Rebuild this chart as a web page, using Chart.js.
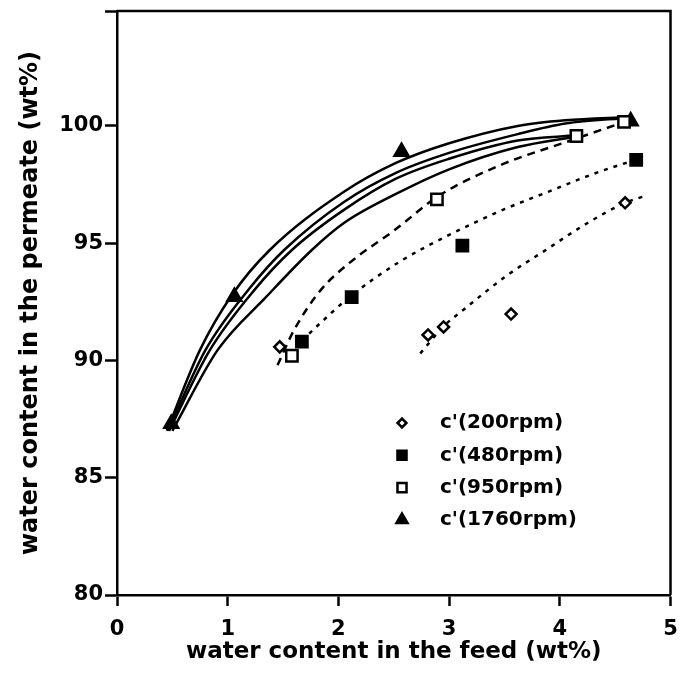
<!DOCTYPE html>
<html>
<head>
<meta charset="utf-8">
<script src="https://cdn.jsdelivr.net/npm/chart.js@4.4.1/dist/chart.umd.min.js"></script>
<style>
html,body{margin:0;padding:0;background:#fff;}
#wrap{width:681px;height:683px;}
</style>
</head>
<body>
<div id="wrap"><canvas id="c" width="681" height="683"></canvas></div>
<script>
// ---------- data ----------
const xTickValues = [0, 1, 2, 3, 4, 5];
const yTickValues = [80, 85, 90, 95, 100];
const xMin = 0, xMax = 5, yMin = 80, yMax = 104.9;

const xTitle = 'water content in the feed (wt%)';
const yTitle = 'water content in the permeate (wt%)';
const legendLabels = ["c'(200rpm)", "c'(480rpm)", "c'(950rpm)", "c'(1760rpm)"];

// measured points
const rpm200X = [1.47, 2.81, 2.95, 3.56, 4.59];
const rpm200Y = [90.58, 91.09, 91.43, 91.98, 96.72];
const rpm480X = [1.67, 2.12, 3.12, 4.69];
const rpm480Y = [90.8, 92.7, 94.9, 98.55];
const rpm950X = [1.58, 2.89, 4.15, 4.58];
const rpm950Y = [90.2, 96.87, 99.57, 100.17];
const rpm1760X = [0.49, 1.06, 2.57, 4.64];
const rpm1760Y = [87.3, 92.72, 98.9, 100.2];

// model curves (solid)
const modelAX = [0.45, 0.75, 1.04, 1.38, 2.05, 2.52, 3.0, 3.62, 4.05, 4.63];
const modelAY = [87.0, 90.45, 92.8, 94.71, 97.19, 98.42, 99.26, 100.0, 100.24, 100.38];
const modelBX = [0.46, 0.8, 1.2, 1.51, 2.05, 2.52, 3.0, 3.62, 4.05, 4.63];
const modelBY = [87.0, 90.45, 93.09, 94.71, 96.76, 98.0, 98.85, 99.65, 100.1, 100.35];
const modelCX = [0.47, 0.84, 1.24, 1.58, 2.05, 2.52, 3.0, 3.62, 4.15];
const modelCY = [87.0, 90.45, 93.0, 94.71, 96.42, 97.75, 98.6, 99.38, 99.6];
const modelDX = [0.5, 0.91, 1.35, 1.76, 2.05, 2.52, 3.0, 3.62, 4.15];
const modelDY = [87.0, 90.45, 92.72, 94.71, 95.86, 97.1, 98.15, 99.1, 99.55];

// fitted curves (broken)
const fit950X = [1.45, 1.6, 1.84, 2.1, 2.52, 2.9, 3.5, 4.05, 4.6];
const fit950Y = [89.8, 91.3, 93.0, 94.16, 95.6, 97.0, 98.4, 99.3, 100.2];
const fit480X = [1.67, 1.85, 2.1, 2.55, 3.0, 3.5, 3.9, 4.3, 4.68];
const fit480Y = [90.85, 91.65, 92.7, 94.2, 95.35, 96.45, 97.2, 97.95, 98.55];
const fit200X = [2.74, 2.95, 3.15, 3.53, 3.87, 4.25, 4.59, 4.76];
const fit200Y = [90.3, 91.45, 92.24, 93.65, 94.7, 95.86, 96.72, 97.0];

// ---------- helpers ----------
const pts = (xs, ys) => xs.map((x, i) => ({x: x, y: ys[i]}));
const FONT = '"DejaVu Sans", sans-serif';

function markerSet(label, xs, ys, style, radius, fill) {
  return {
    label: label, data: pts(xs, ys), showLine: false,
    pointStyle: style, pointRadius: radius, pointHoverRadius: radius,
    pointBackgroundColor: fill, pointBorderColor: '#000', pointBorderWidth: 2.5,
    borderColor: '#000', backgroundColor: fill, order: 0
  };
}
function curveSet(xs, ys, dash) {
  return {
    label: '', data: pts(xs, ys), showLine: true, pointRadius: 0, pointHoverRadius: 0,
    borderColor: '#000', borderWidth: 2.5, borderDash: dash, fill: false,
    cubicInterpolationMode: 'monotone', order: 1
  };
}

const datasets = [
  markerSet(legendLabels[0], rpm200X, rpm200Y, 'rectRot', 5.5, '#fff'),
  markerSet(legendLabels[1], rpm480X, rpm480Y, 'rect', 8, '#000'),
  markerSet(legendLabels[2], rpm950X, rpm950Y, 'rect', 8, '#fff'),
  markerSet(legendLabels[3], rpm1760X, rpm1760Y, 'triangle', 8, '#000'),
  curveSet(modelAX, modelAY, []),
  curveSet(modelBX, modelBY, []),
  curveSet(modelCX, modelCY, []),
  curveSet(modelDX, modelDY, []),
  curveSet(fit950X, fit950Y, [8, 6]),
  curveSet(fit480X, fit480Y, [4, 6]),
  curveSet(fit200X, fit200Y, [4, 6])
];

const framePlugin = {
  id: 'frame',
  afterDraw(chart) {
    const a = chart.chartArea, ctx = chart.ctx;
    ctx.save();
    ctx.strokeStyle = '#000';
    ctx.lineWidth = 2.5;
    ctx.beginPath();
    ctx.moveTo(a.left, a.top);
    ctx.lineTo(a.right, a.top);
    ctx.lineTo(a.right, a.bottom);
    ctx.stroke();
    ctx.restore();
  }
};

const legendPlugin = {
  id: 'boxLegend',
  afterDraw(chart, args, opts) {
    const ctx = chart.ctx;
    ctx.save();
    ctx.font = 'bold ' + opts.fontSize + 'px ' + FONT;
    ctx.textAlign = 'left';
    ctx.textBaseline = 'middle';
    for (let i = 0; i < legendLabels.length; i++) {
      const ds = chart.data.datasets[i];
      const y = opts.top + i * opts.step;
      ctx.fillStyle = ds.pointBackgroundColor;
      ctx.strokeStyle = '#000';
      ctx.lineWidth = 2.5;
      Chart.helpers.drawPoint(ctx, {pointStyle: ds.pointStyle, rotation: 0,
        radius: ds.pointRadius * opts.markerScale, borderWidth: 2.5}, opts.markerX, y);
      ctx.fillStyle = '#000';
      ctx.fillText(legendLabels[i], opts.textX, y);
    }
    ctx.restore();
  }
};

function fixScale(size, horizontal) {
  return function (scale) {
    if (horizontal) scale.height = size; else scale.width = size;
    scale.paddingTop = 0; scale.paddingBottom = 0;
    scale.paddingLeft = 0; scale.paddingRight = 0;
  };
}

new Chart(document.getElementById('c'), {
  type: 'line',
  data: {datasets: datasets},
  plugins: [framePlugin, legendPlugin],
  options: {
    responsive: false,
    animation: false,
    devicePixelRatio: 1,
    layout: {padding: {top: 11, right: 8, left: 0, bottom: 0}},
    plugins: {
      legend: {display: false},
      tooltip: {enabled: false},
      boxLegend: {top: 423, step: 32.3, markerX: 402, textX: 440, fontSize: 20, markerScale: 0.8}
    },
    scales: {
      x: {
        type: 'linear', min: xMin, max: xMax,
        afterBuildTicks: s => { s.ticks = xTickValues.map(v => ({value: v})); },
        afterFit: fixScale(88, true),
        border: {display: true, color: '#000', width: 2.5},
        grid: {display: true, drawOnChartArea: false, drawTicks: true, tickLength: 11,
               tickColor: '#000', tickWidth: 2.5},
        ticks: {color: '#000', padding: 11, font: {family: FONT, size: 21, weight: 'bold'},
                maxRotation: 0, autoSkip: false},
        title: {display: true, text: xTitle, color: '#000',
                font: {family: FONT, size: 23, weight: 'bold'}, padding: {top: 0, bottom: 17}}
      },
      y: {
        type: 'linear', min: yMin, max: yMax,
        afterBuildTicks: s => { s.ticks = yTickValues.concat([yMax]).map(v => ({value: v})); },
        afterFit: fixScale(117, false),
        border: {display: true, color: '#000', width: 2.5},
        grid: {display: true, drawOnChartArea: false, drawTicks: true, tickLength: 12,
               tickColor: '#000', tickWidth: 2.5},
        ticks: {color: '#000', padding: 2, font: {family: FONT, size: 21, weight: 'bold'},
                autoSkip: false,
                callback: v => (yTickValues.indexOf(v) >= 0 ? String(v) : '')},
        title: {display: true, text: yTitle, color: '#000',
                font: {family: FONT, size: 24, weight: 'bold'}, padding: {top: 16, bottom: 0}}
      }
    }
  }
});
</script>
</body>
</html>
